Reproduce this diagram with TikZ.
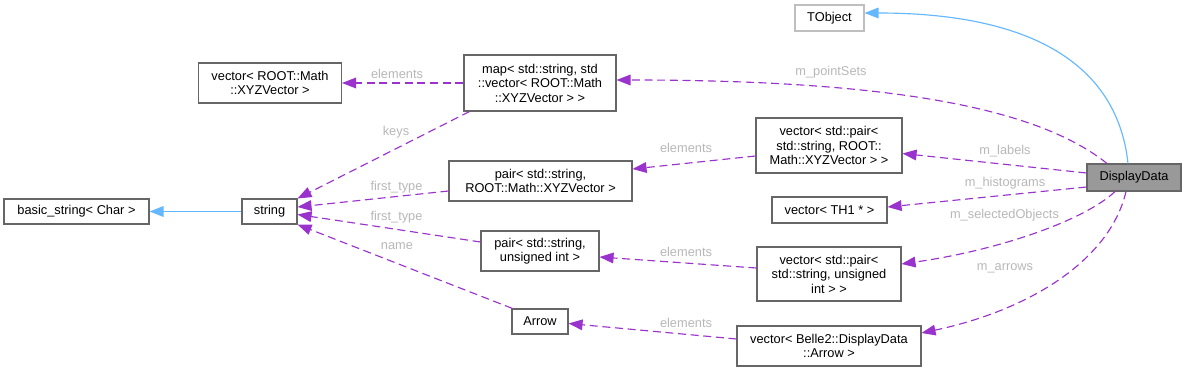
\documentclass[tikz,border=0pt]{standalone}
\usepackage{fontspec}
\setmainfont{Liberation Sans}
\usetikzlibrary{arrows.meta,calc}
\definecolor{boxgray}{HTML}{666666}
\definecolor{lightbox}{HTML}{BFBFBF}
\definecolor{ddfill}{HTML}{999999}
\definecolor{purp}{HTML}{9A32CD}
\definecolor{inhblue}{HTML}{63B8FF}
\definecolor{lblgray}{HTML}{B8B8B8}
\begin{document}
\begin{tikzpicture}[x=0.75pt,y=-0.75pt,
  every node/.style={font=\fontsize{9.6}{10.9}\selectfont},
  cbox/.style={draw=boxgray, line width=0.8pt, fill=white, inner sep=0pt, align=center},
  lbl/.style={text=lblgray, inner sep=0pt},
  member/.style={draw=purp, line width=0.85pt, dash pattern=on 6pt off 3.5pt,
    -{Triangle[length=10.5pt,width=8pt,fill=purp]}},
  inherit/.style={draw=inhblue, line width=0.85pt,
    -{Triangle[length=10.5pt,width=8pt,fill=inhblue]}}]
\useasboundingbox (0,0) rectangle (1185,371);
\fill[white] (0,0) rectangle (1185,371);

% nodes
\node[cbox, draw=lightbox, minimum width=51.75pt, minimum height=19.5pt] (tobj) at (829.5,18) {TObject};
\node[cbox, fill=ddfill, minimum width=70.5pt, minimum height=20.25pt] (dd) at (1134,177.5) {DisplayData};
\node[cbox, minimum width=114pt, minimum height=42pt] (map) at (540,83) {map< std::string, std\\::vector< ROOT::Math\\::XYZVector > >};
\node[cbox, minimum width=107.25pt, minimum height=30pt] (vxyz) at (270,83) {vector< ROOT::Math\\::XYZVector >};
\node[cbox, minimum width=108.75pt, minimum height=18.75pt] (bstr) at (76.5,211.5) {basic\_string< Char >};
\node[cbox, minimum width=41.25pt, minimum height=18.75pt] (str) at (269.5,211.5) {string};
\node[cbox, minimum width=137.25pt, minimum height=30pt] (pxyz) at (540.5,181) {pair< std::string,\\ROOT::Math::XYZVector >};
\node[cbox, minimum width=109.5pt, minimum height=41.25pt] (vpxyz) at (829,145.5) {vector< std::pair<\\std::string, ROOT::\\Math::XYZVector > >};
\node[cbox, minimum width=86.25pt, minimum height=19.5pt] (vth) at (829.5,210) {vector< TH1 * >};
\node[cbox, minimum width=88.5pt, minimum height=30pt] (puns) at (540,251) {pair< std::string,\\unsigned int >};
\node[cbox, minimum width=108pt, minimum height=40.5pt] (vpuns) at (829,274) {vector< std::pair<\\std::string, unsigned\\int > >};
\node[cbox, minimum width=42pt, minimum height=18.75pt] (arr) at (540,321.5) {Arrow};
\node[cbox, minimum width=138pt, minimum height=30pt] (vbel) at (829,346) {vector< Belle2::DisplayData\\::Arrow >};

% labels
\node[lbl] (lps) at (831,72) {m\_pointSets};
\node[lbl] (llab) at (1005,151) {m\_labels};
\node[lbl] (lhis) at (1005,183) {m\_histograms};
\node[lbl] (lsel) at (1004.5,215) {m\_selectedObjects};
\node[lbl] (larr) at (1005,268) {m\_arrows};
\node[lbl] (le1) at (397,74) {elements};
\node[lbl] (lkeys) at (396,132) {keys};
\node[lbl] (le2) at (686,148) {elements};
\node[lbl] (lft1) at (396.5,187) {first\_type};
\node[lbl] (lft2) at (396.5,217) {first\_type};
\node[lbl] (lname) at (397,246) {name};
\node[lbl] (le3) at (686,252) {elements};
\node[lbl] (le4) at (686,323) {elements};

% inheritance
\draw[inherit] ($(dd.north)+(-6,0)$) .. controls (1118,70) and (1040,13) .. ($(tobj.east)+(0,-5)$);
\draw[inherit] (str.west) -- (bstr.east);

% members from DisplayData
\draw[member] ($(dd.north)+(-27,0)$) .. controls (1040,110) and (900,80) .. ($(map.east)+(0,-3)$);
\draw[member] ($(dd.west)+(0,-4.5)$) -- ($(vpxyz.east)+(0,8)$);
\draw[member] ($(dd.west)+(0,9.5)$) -- ($(vth.east)+(0,-3)$);
\draw[member] ($(dd.south)+(-19,0)$) .. controls (1085,220) and (1000,250) .. ($(vpuns.east)+(0,-10)$);
\draw[member] ($(dd.south)+(-8,0)$) .. controls (1110,260) and (1030,310) .. ($(vbel.east)+(0,-13)$);

% other members
\draw[member] (map.west) -- (vxyz.east);
\draw[member] ($(map.south west)+(6,0)$) -- (str.north east);
\draw[member] ($(vpxyz.west)+(0,10.5)$) -- ($(pxyz.east)+(0,-12)$);
\draw[member] ($(pxyz.west)+(0,10)$) -- ($(str.east)+(0,-4.5)$);
\draw[member] ($(puns.west)+(0,-9)$) -- ($(str.east)+(0,3)$);
\draw[member] ($(arr.north west)+(1,0)$) -- (str.south east);
\draw[member] ($(vpuns.west)+(0,-6)$) -- ($(puns.east)+(0,6)$);
\draw[member] ($(vbel.west)+(0,-7)$) -- ($(arr.east)+(0,2)$);
\end{tikzpicture}
\end{document}
